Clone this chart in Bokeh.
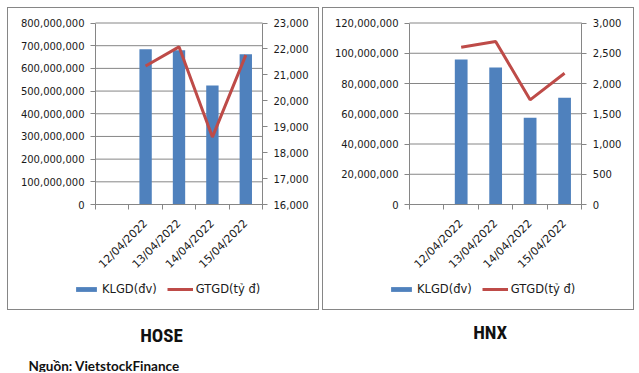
import math
from bokeh.plotting import figure
from bokeh.models import (Range1d, LinearAxis, FixedTicker, NumeralTickFormatter,
                          Legend, LegendItem, Label, Spacer)
from bokeh.layouts import row, column
from bokeh.embed import file_html
from bokeh.resources import INLINE

# ---------------- data ----------------
categories = ["", "12/04/2022", "13/04/2022", "14/04/2022", "15/04/2022"]
dates = ["12/04/2022", "13/04/2022", "14/04/2022", "15/04/2022"]

hose_klgd = [684_000_000, 680_000_000, 525_000_000, 662_000_000]
hose_gtgd = [21340, 22080, 18600, 21760]

hnx_klgd = [95_800_000, 90_500_000, 57_400_000, 70_600_000]
hnx_gtgd = [2600, 2695, 1730, 2170]

hose_left_ticks = [0, 100e6, 200e6, 300e6, 400e6, 500e6, 600e6, 700e6, 800e6]
hose_right_ticks = [16000, 17000, 18000, 19000, 20000, 21000, 22000, 23000]
hnx_left_ticks = [0, 20e6, 40e6, 60e6, 80e6, 100e6, 120e6]
hnx_right_ticks = [0, 500, 1000, 1500, 2000, 2500, 3000]

series_names = ["KLGD(đv)", "GTGD(tỷ đ)"]
panel_titles = ["HOSE", "HNX"]
source_text = "Nguồn: VietstockFinance"

BAR = "#4f81bd"
LINE = "#be4b48"
GRID = "#868686"
TXT = "#1a1a1a"
FONT = "DejaVu Sans"

PW, PH = 312, 303          # panel size (incl. its border)
FY_TOP, FY_BOT = 15.5, 197  # pixel rows of the value-axis top / zero line


def style_axis(ax):
    ax.axis_line_color = GRID
    ax.major_tick_line_color = GRID
    ax.minor_tick_line_color = GRID
    ax.major_tick_out = 5
    ax.major_tick_in = 0
    ax.minor_tick_out = 0
    ax.minor_tick_in = 0
    ax.major_label_text_font = FONT
    ax.major_label_text_font_size = "10px"
    ax.major_label_text_color = TXT
    ax.major_label_standoff = 6


def span_range(lo, hi, px_lo, px_hi, total, flip=False):
    """Range whose [lo, hi] lands on pixels [px_lo, px_hi] of a span `total` long."""
    ppu = (px_hi - px_lo) / (hi - lo)
    if flip:  # vertical: px measured from top
        return Range1d(lo - (total - px_hi) / ppu, hi + px_lo / ppu)
    return Range1d(lo - px_lo / ppu, hi + (total - px_hi) / ppu)


def panel(klgd, gtgd, lticks, rticks, fx0, fx1):
    n = len(categories)
    p = figure(width=PW, height=PH, output_backend="svg", toolbar_location=None,
               title=None, min_border=0,
               x_range=span_range(0, n, fx0, fx1, PW),
               y_range=span_range(lticks[0], lticks[-1], FY_TOP, FY_BOT, PH, flip=True))
    p.extra_y_ranges = {"r": span_range(rticks[0], rticks[-1], FY_TOP, FY_BOT, PH, flip=True)}
    p.outline_line_color = None
    p.background_fill_color = None
    p.border_fill_color = None
    p.xgrid.visible = False
    p.ygrid.visible = False
    p.styles = {"box-shadow": "inset 0 0 0 1px #868686", "background-color": "white"}

    # horizontal gridlines at the left-axis ticks, across the category span
    p.segment(x0=[0] * len(lticks), x1=[n] * len(lticks), y0=lticks, y1=lticks,
              line_color=GRID, line_width=1)

    xs = [categories.index(d) + 0.5 for d in dates]
    bars = p.vbar(x=xs, top=klgd, width=0.37, fill_color=BAR, line_color=None)
    ln = p.line(x=xs, y=gtgd, y_range_name="r", line_color=LINE, line_width=3)

    # category axis
    xa = p.xaxis[0]
    style_axis(xa)
    xa.fixed_location = lticks[0]
    xa.bounds = (0, n)
    xa.ticker = FixedTicker(ticks=[i + 0.5 for i in range(n)],
                            minor_ticks=list(range(n + 1)))
    xa.major_label_overrides = {i + 0.5: c for i, c in enumerate(categories)}
    xa.major_tick_out = 0
    xa.minor_tick_out = 5
    xa.major_label_orientation = math.pi / 4
    xa.major_label_standoff = 12
    xa.major_label_text_font_size = "11px"

    # left value axis
    ya = p.yaxis[0]
    style_axis(ya)
    ya.fixed_location = 0
    ya.bounds = (lticks[0], lticks[-1])
    ya.ticker = FixedTicker(ticks=lticks)
    ya.formatter = NumeralTickFormatter(format="0,0")

    # right value axis
    ra = LinearAxis(y_range_name="r", ticker=FixedTicker(ticks=rticks),
                    formatter=NumeralTickFormatter(format="0,0"),
                    fixed_location=n, bounds=(rticks[0], rticks[-1]))
    style_axis(ra)
    p.add_layout(ra, "right")

    leg = Legend(items=[LegendItem(label=series_names[0], renderers=[bars]),
                        LegendItem(label=series_names[1], renderers=[ln])],
                 location=(66, 14), orientation="horizontal",
                 background_fill_alpha=0, border_line_color=None,
                 padding=0, margin=0, spacing=10, label_standoff=3,
                 glyph_width=26, glyph_height=6, label_height=12,
                 label_text_font=FONT, label_text_font_size="11.5px",
                 label_text_color=TXT)
    p.add_layout(leg)
    return p


p1 = panel(hose_klgd, hose_gtgd, hose_left_ticks, hose_right_ticks, 88, 255)
p2 = panel(hnx_klgd, hnx_gtgd, hnx_left_ticks, hnx_right_ticks, 87, 259.3)

# captions under the panels
CW, CHH = 639, 62
p3 = figure(width=CW, height=CHH, output_backend="svg", toolbar_location=None,
            title=None, x_range=Range1d(0, CW), y_range=Range1d(CHH, 0),
            x_axis_type=None, y_axis_type=None, min_border=0)
p3.outline_line_color = None
p3.background_fill_color = None
p3.border_fill_color = None
p3.xgrid.visible = False
p3.ygrid.visible = False
title_font = "Liberation Sans Narrow, Roboto Condensed, Arial Narrow, sans-serif"
for tx, ty, tt in zip([161, 489.7], [25, 22.3], panel_titles):
    p3.add_layout(Label(x=tx, y=ty, text=tt, text_font=title_font,
                        text_font_style="bold", text_font_size="19px",
                        text_color="#111111", text_align="center",
                        text_baseline="alphabetic"))
p3.add_layout(Label(x=28, y=55, text=source_text, text_font="Lato",
                    text_font_style="bold", text_font_size="13.5px",
                    text_color="#111111", text_align="left",
                    text_baseline="alphabetic"))

layout = column(Spacer(height=7),
                row(Spacer(width=7), p1, Spacer(width=3), p2),
                p3)

open("out.html", "w").write(file_html(layout, INLINE))
